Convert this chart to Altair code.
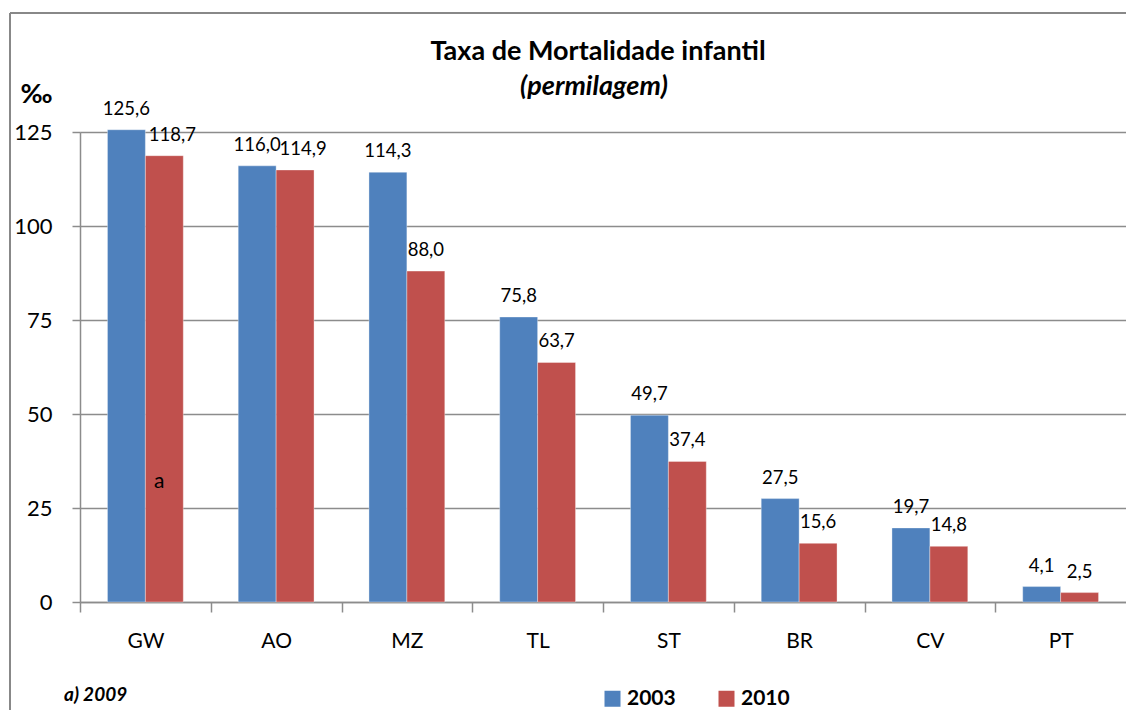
import altair as alt
import pandas as pd

countries = ["GW", "AO", "MZ", "TL", "ST", "BR", "CV", "PT"]
years = ["2003", "2010"]
v2003 = [125.6, 116.0, 114.3, 75.8, 49.7, 27.5, 19.7, 4.1]
v2010 = [118.7, 114.9, 88.0, 63.7, 37.4, 15.6, 14.8, 2.5]
y_ticks = [0, 25, 50, 75, 100, 125]
colors = ["#4F81BD", "#C0504D"]
title_lines = ["Taxa de Mortalidade infantil", "(permilagem)"]

rows = []
for c, a, b in zip(countries, v2003, v2010):
    rows.append({"pais": c, "ano": "2003", "valor": a, "rotulo": f"{a:.1f}".replace(".", ",")})
    rows.append({"pais": c, "ano": "2010", "valor": b, "rotulo": f"{b:.1f}".replace(".", ",")})
df = pd.DataFrame(rows)
# labels nudged right to avoid touching neighbours (as in the original)
df["nudge"] = ((df["ano"] == "2010") & df["pais"].isin(["GW", "AO"])).astype(int)

note_df = pd.DataFrame([{"pais": "GW", "ano": "2010", "valor": 32, "txt": "a"}])

FONT = "Lato"
W, H = 1046, 470
PAD_IN = 0.42
step = W / len(countries)
edge = step * PAD_IN / 2

x_enc = alt.X(
    "pais:N",
    sort=countries,
    scale=alt.Scale(paddingInner=PAD_IN, paddingOuter=PAD_IN / 2),
    axis=alt.Axis(
        title=None, labelAngle=0, bandPosition=0, tickOffset=-edge, labelOffset=edge,
        labelFontSize=21, labelFont=FONT, labelColor="#000000", labelPadding=18,
        tickSize=10, tickColor="#8c8c8c", tickWidth=1.5,
        domainColor="#8c8c8c", domainWidth=1.5, grid=False,
    ),
)
y_enc = alt.Y(
    "valor:Q",
    scale=alt.Scale(domain=[0, 125], nice=False),
    axis=alt.Axis(
        values=y_ticks, title="‰", titleAngle=0, titleX=-44, titleY=-38,
        titleAlign="center", titleBaseline="middle", titleFontSize=27,
        titleFont=FONT, titleFontWeight="bold", titleColor="#000000",
        labelFontSize=22, labelFont=FONT, labelColor="#000000", labelPadding=20,
        tickSize=8, tickColor="#8c8c8c", tickWidth=1.5,
        domainColor="#8c8c8c", domainWidth=1.5,
        grid=True, gridColor="#8c8c8c", gridWidth=1.5,
    ),
)

bars = alt.Chart(df).mark_bar(stroke="#ffffff", strokeOpacity=0.35, strokeWidth=1).encode(
    x=x_enc,
    xOffset=alt.XOffset("ano:N", sort=years),
    y=y_enc,
    color=alt.Color(
        "ano:N",
        scale=alt.Scale(domain=years, range=colors),
        legend=alt.Legend(
            title=None, orient="none", direction="horizontal",
            legendX=522, legendY=556, symbolType="square", symbolSize=256,
            symbolStrokeWidth=0, labelFontSize=21, labelFont=FONT,
            labelFontWeight="bold", labelColor="#000000", columnPadding=40,
            labelOffset=4,
        ),
    ),
)

def value_labels(nudge, dx):
    return alt.Chart(df).transform_filter(alt.datum.nudge == nudge).mark_text(
        baseline="alphabetic", dy=-15, dx=dx, fontSize=18.5, font=FONT, color="#000000"
    ).encode(
        x=alt.X("pais:N", sort=countries),
        xOffset=alt.XOffset("ano:N", sort=years),
        y="valor:Q",
        text="rotulo:N",
    )

labels = value_labels(0, 0)
labels_nudged = value_labels(1, 8)

note = alt.Chart(note_df).mark_text(
    baseline="middle", dx=-5, fontSize=21, font=FONT, color="#000000"
).encode(
    x=alt.X("pais:N", sort=countries),
    xOffset=alt.XOffset("ano:N", sort=years),
    y="valor:Q",
    text="txt:N",
)

footer = alt.Chart(pd.DataFrame([{"t": "a) 2009"}])).mark_text(
    align="left", baseline="middle", fontSize=19, font=FONT,
    fontWeight="bold", fontStyle="italic", color="#000000"
).encode(x=alt.value(-16), y=alt.value(563), text="t:N")

title1 = alt.Chart(pd.DataFrame([{"t": title_lines[0]}])).mark_text(
    align="center", baseline="middle", fontSize=27, font=FONT,
    fontWeight="bold", color="#000000"
).encode(x=alt.value(518), y=alt.value(-80), text="t:N")

title2 = alt.Chart(pd.DataFrame([{"t": title_lines[1]}])).mark_text(
    align="center", baseline="middle", fontSize=27, font=FONT,
    fontWeight="bold", fontStyle="italic", color="#000000"
).encode(x=alt.value(514), y=alt.value(-45), text="t:N")

frame_left = alt.Chart(pd.DataFrame([{"k": 1}])).mark_rule(
    color="#888888", strokeWidth=2
).encode(x=alt.value(-70), y=alt.value(-119), y2=alt.value(H + 110))

frame_top = alt.Chart(pd.DataFrame([{"k": 1}])).mark_rule(
    color="#888888", strokeWidth=2
).encode(x=alt.value(-70), x2=alt.value(W + 20), y=alt.value(-119))

chart = alt.layer(
    bars, labels, labels_nudged, note, footer, title1, title2, frame_left, frame_top
).properties(
    width=W,
    height=H,
    autosize=alt.AutoSizeParams(type="none"),
    padding={"left": 72, "top": 124, "right": 0, "bottom": 108},
).configure_view(stroke=None).configure(background="#ffffff")

chart.save("out.html", embed_options={"renderer": "svg", "actions": False})
